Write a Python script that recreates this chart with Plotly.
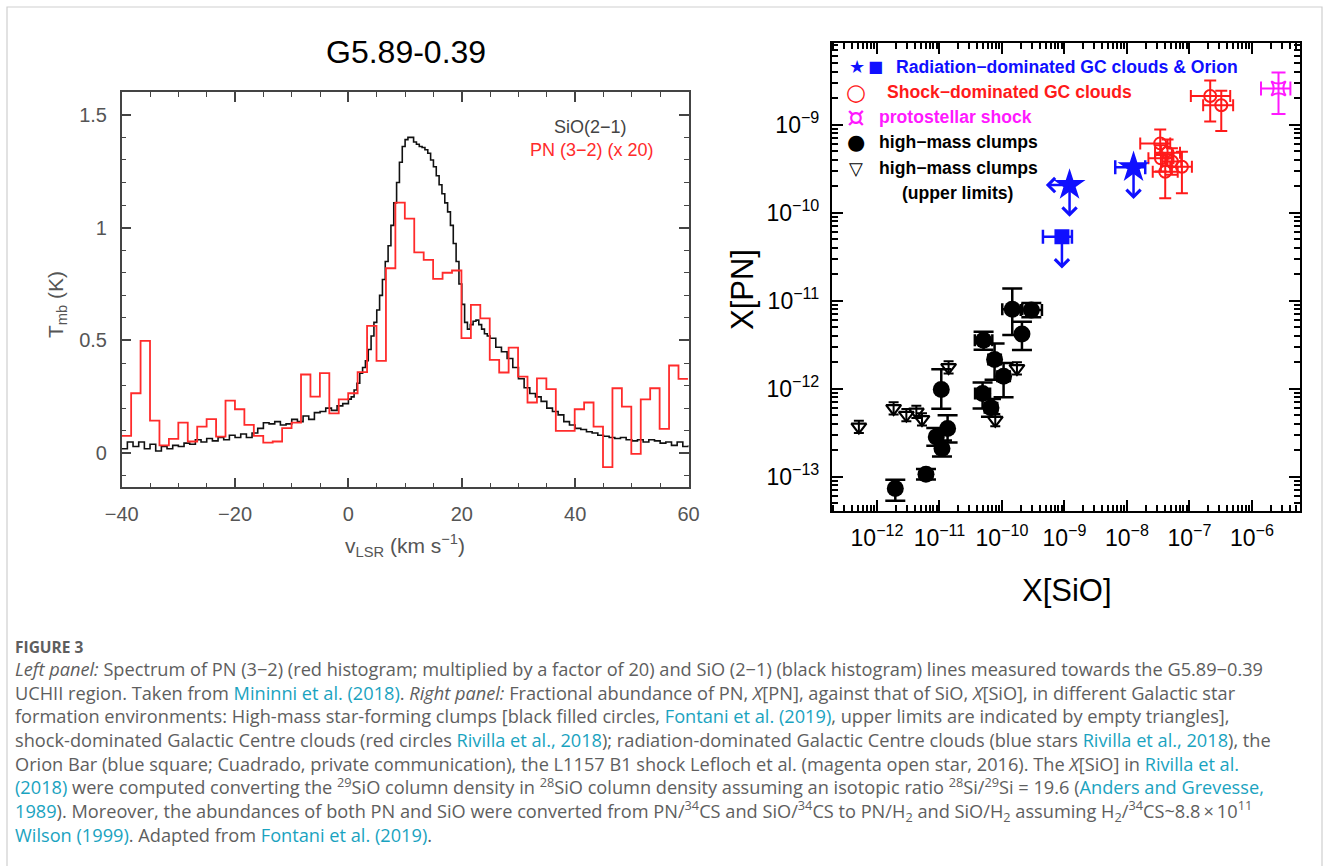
import numpy as np
import plotly.graph_objects as go

W, H = 1329, 866


def px(x):
    return x / W


def py(y):
    return 1 - y / H


# ---------------- Left panel: spectra ----------------
# PN (3-2) x20 histogram: channel values (K), channels start at -40 km/s
pn_v_start = -40.0
pn_dv = 1.665
pn_T = [0.077, 0.266, 0.498, 0.145, 0.035, 0.064, 0.136, 0.052, 0.118, 0.151,
        0.074, 0.233, 0.195, 0.126, 0.077, 0.047, 0.052, 0.111, 0.136, 0.349,
        0.251, 0.355, 0.177, 0.239, 0.266, 0.360, 0.565, 0.409, 0.820, 1.111,
        1.040, 0.890, 0.857, 0.773, 0.800, 0.810, 0.510, 0.658, 0.598, 0.414,
        0.358, 0.468, 0.340, 0.225, 0.332, 0.284, 0.099, 0.099, 0.195, 0.225,
        0.118, -0.062, 0.288, 0.207, -0.003, 0.239, 0.288, 0.108, 0.389, 0.330]

# SiO (2-1) spectrum
sio_v = [-40, -39, -38, -37, -36, -35, -34, -33, -32, -31, -30, -29, -28, -27,
         -26, -25, -24, -23, -22, -21, -20, -19, -18, -17, -16, -15, -14, -13,
         -12, -11, -10, -9, -8, -7, -6, -5, -4, -3, -2, -1,
         0, 0.5, 1, 1.5, 2, 2.5, 3, 3.5, 4, 4.5, 5, 5.5, 6, 6.5, 7, 7.5, 8, 8.5,
         9, 9.5, 10, 10.5, 11, 11.5, 12, 12.5, 13, 13.5, 14, 14.5, 15, 15.5, 16,
         16.5, 17, 17.5, 18, 18.5, 19, 19.5, 20, 20.5, 21, 21.5, 22, 22.5, 23,
         23.5, 24, 24.5, 25,
         26, 27, 28, 29, 30, 31, 32, 33, 34, 35, 36, 37, 38, 39, 40, 41, 42, 43,
         44, 45, 46, 47, 48, 49, 50, 51, 52, 53, 54, 55, 56, 57, 58, 59, 60]
sio_T = [0.02, 0.05, 0.03, 0.05, 0.02, 0.04, 0.01, 0.03, 0.02, 0.035, 0.03, 0.045,
         0.04, 0.06, 0.05, 0.065, 0.055, 0.07, 0.06, 0.08, 0.07, 0.085, 0.07, 0.09,
         0.11, 0.135, 0.13, 0.14, 0.125, 0.13, 0.15, 0.14, 0.165, 0.15, 0.18, 0.185,
         0.20, 0.19, 0.21, 0.22,
         0.24, 0.25, 0.28, 0.31, 0.355, 0.38, 0.41, 0.46, 0.52, 0.58, 0.635, 0.70,
         0.77, 0.85, 0.92, 1.01, 1.11, 1.20, 1.29, 1.36, 1.39, 1.40, 1.40, 1.38,
         1.37, 1.36, 1.355, 1.345, 1.33, 1.30, 1.27, 1.23, 1.19, 1.15, 1.11, 1.07,
         1.01, 0.93, 0.85, 0.75, 0.66, 0.58, 0.55, 0.57, 0.585, 0.59, 0.57, 0.55,
         0.53, 0.52, 0.51,
         0.47, 0.45, 0.42, 0.38, 0.33, 0.29, 0.265, 0.25, 0.23, 0.20, 0.185, 0.17,
         0.14, 0.125, 0.11, 0.105, 0.095, 0.09, 0.08, 0.075, 0.07, 0.065, 0.07, 0.06,
         0.055, 0.06, 0.05, 0.06, 0.055, 0.045, 0.05, 0.035, 0.05, 0.03, 0.035]

# ---------------- Right panel: abundances (log10 values) ----------------
# high-mass clumps (detections)
clump_lx = [-11.707, -11.216, -10.971, -11.051, -10.870, -10.960, -10.294,
            -10.118, -9.974, -10.310, -10.176, -9.835, -9.680, -9.530]
clump_ly = [-13.134, -12.972, -12.009, -12.548, -12.452, -12.680, -11.449,
            -11.668, -11.858, -12.055, -12.218, -11.097, -11.380, -11.108]
clump_ex = [0.0, 0.05, 0.05, 0.06, 0.04, 0.05, 0.14, 0.10, 0.10, 0.12, 0.10,
            0.16, 0.0, 0.17]
clump_ey_lo = [0.14, 0.06, 0.22, 0.10, 0.16, 0.09, 0.11, 0.23, 0.24, 0.17, 0.10,
               0.295, 0.18, 0.08]
clump_ey_hi = [0.10, 0.06, 0.23, 0.10, 0.15, 0.09, 0.095, 0.18, 0.15, 0.125, 0.10,
               0.236, 0.14, 0.08]

# high-mass clumps (upper limits)
ul_lx = [-12.29, -11.734, -11.53, -11.37, -11.28, -10.854, -9.76, -10.107]
ul_ly = [-12.434, -12.225, -12.30, -12.264, -12.35, -11.759, -11.77, -12.358]
ul_ey = [0.07, 0.07, 0.07, 0.07, 0.07, 0.07, 0.07, 0.07]

# radiation-dominated GC clouds (stars) and Orion Bar (square)
star_lx = [-8.918, -7.894]
star_ly = [-9.6875, -9.486]
star_ex_lo = [0.0, 0.293]
star_ex_hi = [0.0, 0.187]
star_ul_sio = [True, False]
square_lx = [-9.04]
square_ly = [-10.275]
square_ex_lo = [0.304]
square_ex_hi = [0.16]

# shock-dominated GC clouds
shock_lx = [-6.667, -6.490, -7.467, -7.456, -7.280, -7.387, -7.120, -7.350]
shock_ly = [-8.676, -8.780, -9.214, -9.384, -9.420, -9.536, -9.480, -9.320]
shock_ex_lo = [0.31, 0.29, 0.32, 0.20, 0.15, 0.20, 0.187, 0.20]
shock_ex_hi = [0.32, 0.19, 0.16, 0.20, 0.15, 0.20, 0.16, 0.20]
shock_ey_lo = [0.29, 0.294, 0.133, 0.15, 0.15, 0.30, 0.30, 0.15]
shock_ey_hi = [0.176, 0.164, 0.159, 0.15, 0.15, 0.20, 0.17, 0.15]

# protostellar shock L1157-B1
proto_lx = [-5.574]
proto_ly = [-8.589]
proto_ex_lo = [0.28]
proto_ex_hi = [0.19]
proto_ey_lo = [0.29]
proto_ey_hi = [0.18]

x_tick_exp = [-12, -11, -10, -9, -8, -7, -6]
y_tick_exp = [-13, -12, -11, -10, -9]

# upper-limit arrow length (dex)
ARROW_DEX_Y = 0.36
ARROW_DEX_X = 0.38


def lin(a):
    return 10.0 ** np.asarray(a, dtype=float)


def err_plus(lv, d):
    return lin(np.asarray(lv) + np.asarray(d)) - lin(lv)


def err_minus(lv, d):
    return lin(lv) - lin(np.asarray(lv) - np.asarray(d))


fig = go.Figure()

# ---- left panel traces
pn_edges = pn_v_start + pn_dv * np.arange(len(pn_T) + 1)
pn_y = list(pn_T) + [pn_T[-1]]
fig.add_trace(go.Scatter(x=sio_v, y=sio_T, mode="lines", line_shape="hv",
                         line=dict(color="#111111", width=1.6),
                         xaxis="x", yaxis="y", showlegend=False))
fig.add_trace(go.Scatter(x=pn_edges, y=pn_y, mode="lines", line_shape="hv",
                         line=dict(color="#ff2b2b", width=1.8),
                         xaxis="x", yaxis="y", showlegend=False))

# ---- right panel traces
BLK = "#000000"
BLUE = "#1010ff"
RED = "#ff1a1a"
MAG = "#ff19ff"

fig.add_trace(go.Scatter(
    x=lin(ul_lx), y=lin(ul_ly), mode="markers", xaxis="x2", yaxis="y2",
    marker=dict(symbol="triangle-down-open", size=13, color=BLK, line=dict(width=2.2)),
    error_y=dict(type="data", symmetric=False, array=err_plus(ul_ly, ul_ey),
                 arrayminus=err_minus(ul_ly, ul_ey), color=BLK, thickness=2, width=5),
    showlegend=False))

fig.add_trace(go.Scatter(
    x=lin(clump_lx), y=lin(clump_ly), mode="markers", xaxis="x2", yaxis="y2",
    marker=dict(symbol="circle", size=17, color=BLK),
    error_y=dict(type="data", symmetric=False, array=err_plus(clump_ly, clump_ey_hi),
                 arrayminus=err_minus(clump_ly, clump_ey_lo), color=BLK, thickness=2.5, width=10),
    error_x=dict(type="data", symmetric=False, array=err_plus(clump_lx, clump_ex),
                 arrayminus=err_minus(clump_lx, clump_ex), color=BLK, thickness=2.5, width=6),
    showlegend=False))

fig.add_trace(go.Scatter(
    x=lin(shock_lx), y=lin(shock_ly), mode="markers", xaxis="x2", yaxis="y2",
    marker=dict(symbol="circle-open", size=12, color=RED, line=dict(width=2)),
    error_y=dict(type="data", symmetric=False, array=err_plus(shock_ly, shock_ey_hi),
                 arrayminus=err_minus(shock_ly, shock_ey_lo), color=RED, thickness=2, width=6),
    error_x=dict(type="data", symmetric=False, array=err_plus(shock_lx, shock_ex_hi),
                 arrayminus=err_minus(shock_lx, shock_ex_lo), color=RED, thickness=2, width=6),
    showlegend=False))

fig.add_trace(go.Scatter(
    x=lin(proto_lx), y=lin(proto_ly), mode="markers", xaxis="x2", yaxis="y2",
    marker=dict(symbol="star-square-open", size=13, color=MAG, line=dict(width=2)),
    error_y=dict(type="data", symmetric=False, array=err_plus(proto_ly, proto_ey_hi),
                 arrayminus=err_minus(proto_ly, proto_ey_lo), color=MAG, thickness=2, width=7),
    error_x=dict(type="data", symmetric=False, array=err_plus(proto_lx, proto_ex_hi),
                 arrayminus=err_minus(proto_lx, proto_ex_lo), color=MAG, thickness=2, width=7),
    showlegend=False))

fig.add_trace(go.Scatter(
    x=lin(star_lx), y=lin(star_ly), mode="markers", xaxis="x2", yaxis="y2",
    marker=dict(symbol="star", size=24, color=BLUE),
    error_x=dict(type="data", symmetric=False, array=err_plus(star_lx, star_ex_hi),
                 arrayminus=err_minus(star_lx, star_ex_lo), color=BLUE, thickness=2.5, width=7),
    showlegend=False))

fig.add_trace(go.Scatter(
    x=lin(square_lx), y=lin(square_ly), mode="markers", xaxis="x2", yaxis="y2",
    marker=dict(symbol="square", size=15, color=BLUE),
    error_x=dict(type="data", symmetric=False, array=err_plus(square_lx, square_ex_hi),
                 arrayminus=err_minus(square_lx, square_ex_lo), color=BLUE, thickness=2.5, width=7),
    showlegend=False))

annotations = []

# upper-limit arrows for blue points (annotation coords on log axes are log10)
arrow_pts = [(star_lx[i], star_ly[i], star_ul_sio[i]) for i in range(len(star_lx))]
arrow_pts += [(square_lx[0], square_ly[0], False)]
for lx, ly, ul_x in arrow_pts:
    annotations.append(dict(x=lx, y=ly - ARROW_DEX_Y, ax=lx, ay=ly, xref="x2", yref="y2",
                            axref="x2", ayref="y2", text="", showarrow=True,
                            arrowhead=4, arrowsize=1.1, arrowwidth=2.5, arrowcolor=BLUE))
    if ul_x:
        annotations.append(dict(x=lx - ARROW_DEX_X, y=ly, ax=lx, ay=ly, xref="x2", yref="y2",
                                axref="x2", ayref="y2", text="", showarrow=True,
                                arrowhead=4, arrowsize=1.1, arrowwidth=2.5, arrowcolor=BLUE))

# ---- layout axes
LGRAY = "#444444"
TGRAY = "#555555"
left_x_dom = [px(121.7), px(688.5)]
left_y_dom = [py(487.3), py(92.3)]
right_x_dom = [px(832), px(1300)]
right_y_dom = [py(511), py(42.7)]

xaxis = dict(domain=left_x_dom, anchor="y", range=[-40, 60], dtick=20, tick0=-40,
             automargin=False,
             ticks="inside", ticklen=10, tickwidth=1.5, tickcolor=LGRAY,
             showline=True, linecolor=LGRAY, linewidth=1.5, mirror="ticks",
             showgrid=False, zeroline=False,
             tickfont=dict(family="Liberation Sans, Arial", size=20, color=TGRAY),
             ticklabelstandoff=8,
             minor=dict(dtick=5, ticks="inside", ticklen=5, tickwidth=1.3, tickcolor=LGRAY,
                        showgrid=False))
yaxis = dict(domain=left_y_dom, anchor="x", range=[-0.151, 1.6], dtick=0.5, tick0=0,
             automargin=False,
             ticks="inside", ticklen=10, tickwidth=1.5, tickcolor=LGRAY,
             showline=True, linecolor=LGRAY, linewidth=1.5, mirror="ticks",
             showgrid=False, zeroline=False,
             tickfont=dict(family="Liberation Sans, Arial", size=20, color=TGRAY),
             ticklabelstandoff=9,
             minor=dict(dtick=0.1, ticks="inside", ticklen=5, tickwidth=1.3, tickcolor=LGRAY,
                        showgrid=False))

x_minor = [k * 10.0 ** e for e in range(-13, -5) for k in range(2, 10)]
y_minor = [k * 10.0 ** e for e in range(-14, -8) for k in range(2, 10)]

xaxis2 = dict(domain=right_x_dom, anchor="y2", type="log", range=[-12.72, -5.23],
              automargin=False,
              tickmode="array", tickvals=[10.0 ** e for e in x_tick_exp],
              ticktext=["10<sup>\u2212%d</sup>" % (-e) for e in x_tick_exp],
              ticks="inside", ticklen=11, tickwidth=2, tickcolor="#000",
              showline=True, linecolor="#000", linewidth=2.2, mirror="ticks",
              showgrid=False, zeroline=False,
              tickfont=dict(family="Liberation Sans, Arial", size=23, color="#000"),
              ticklabelstandoff=5,
              minor=dict(tickmode="array", tickvals=x_minor, ticks="inside", ticklen=6,
                         tickwidth=1.6, tickcolor="#000", showgrid=False))
yaxis2 = dict(domain=right_y_dom, anchor="x2", type="log", range=[-13.39, -8.07],
              automargin=False,
              tickmode="array", tickvals=[10.0 ** e for e in y_tick_exp],
              ticktext=["10<sup>\u2212%d</sup>" % (-e) for e in y_tick_exp],
              ticks="inside", ticklen=11, tickwidth=2, tickcolor="#000",
              showline=True, linecolor="#000", linewidth=2.2, mirror="ticks",
              showgrid=False, zeroline=False,
              tickfont=dict(family="Liberation Sans, Arial", size=23, color="#000"),
              ticklabelstandoff=6,
              minor=dict(tickmode="array", tickvals=y_minor, ticks="inside", ticklen=6,
                         tickwidth=1.6, tickcolor="#000", showgrid=False))

# ---- text annotations
SANS = "Liberation Sans, Arial, sans-serif"


def ann(x, y, text, size, color="#000", family=SANS, xanchor="center", angle=0,
        yanchor="middle", align="center"):
    annotations.append(dict(x=px(x), y=py(y), xref="paper", yref="paper", text=text,
                            showarrow=False, xanchor=xanchor, yanchor=yanchor, align=align,
                            textangle=angle, font=dict(family=family, size=size, color=color)))


ann(406, 52, "G5.89-0.39", 32)
ann(590, 127, "SiO(2\u22121)", 18, "#444444")
ann(592, 150, "PN (3\u22122) (x 20)", 18, "#ff2b2b")
ann(405, 545, "v<sub>LSR</sub> (km s<sup>\u22121</sup>)", 21, TGRAY)
ann(57, 305, "T<sub>mb</sub> (K)", 21, TGRAY, angle=-90)

ann(742, 290, "X[PN]", 31, "#000", angle=-90)
ann(1067, 590, "X[SiO]", 31, "#000")

# legend inside right panel
LEG = "Liberation Sans, Arial, sans-serif"
SYM = "DejaVu Sans"
LS = 17.6
ann(857, 67, "\u2605", 18, BLUE, SYM)
ann(875, 67, "\u25a0", 16, BLUE, SYM)
ann(894, 67, "<b>Radiation\u2212dominated GC clouds & Orion</b>", LS, BLUE, LEG, "left")
ann(856, 92, "\u25cb", 23, RED, SYM)
ann(885, 92, "<b>Shock\u2212dominated GC clouds</b>", LS, RED, LEG, "left")
ann(856, 117, "\u00a4", 28, MAG, SYM)
ann(877, 117, "<b>protostellar shock</b>", LS, MAG, LEG, "left")
ann(856, 142, "\u25cf", 21, BLK, SYM)
ann(877, 142, "<b>high\u2212mass clumps</b>", LS, BLK, LEG, "left")
ann(856, 168, "\u25bd", 18, BLK, SYM)
ann(877, 168, "<b>high\u2212mass clumps</b>", LS, BLK, LEG, "left")
ann(900, 193, "<b>(upper limits)</b>", LS, BLK, LEG, "left")

# caption
CAP = "Open Sans, Lato, sans-serif"
CGRAY = "#5e5e5e"
LINK = "#1aa3bf"


def lk(t):
    return "<span style='color:%s'>%s</span>" % (LINK, t)


caption_lines = [
    "<i>Left panel:</i> Spectrum of PN (3\u22122) (red histogram; multiplied by a factor of 20) and SiO (2\u22121) (black histogram) lines measured towards the G5.89\u22120.39",
    "UCHII region. Taken from " + lk("Mininni et al. (2018)") + ". <i>Right panel:</i> Fractional abundance of PN, <i>X</i>[PN], against that of SiO, <i>X</i>[SiO], in different Galactic star",
    "formation environments: High-mass star-forming clumps [black filled circles, " + lk("Fontani et al. (2019)") + ", upper limits are indicated by empty triangles],",
    "shock-dominated Galactic Centre clouds (red circles " + lk("Rivilla et al., 2018") + "); radiation-dominated Galactic Centre clouds (blue stars " + lk("Rivilla et al., 2018") + "), the",
    "Orion Bar (blue square; Cuadrado, private communication), the L1157 B1 shock Lefloch et al. (magenta open star, 2016). The <i>X</i>[SiO] in " + lk("Rivilla et al."),
    lk("(2018)") + " were computed converting the <sup>29</sup>SiO column density in <sup>28</sup>SiO column density assuming an isotopic ratio <sup>28</sup>Si/<sup>29</sup>Si = 19.6 (" + lk("Anders and Grevesse,"),
    lk("1989") + "). Moreover, the abundances of both PN and SiO were converted from PN/<sup>34</sup>CS and SiO/<sup>34</sup>CS to PN/H<sub>2</sub> and SiO/H<sub>2</sub> assuming H<sub>2</sub>/<sup>34</sup>CS~8.8\u2009\u00d7\u200910<sup>11</sup>",
    lk("Wilson (1999)") + ". Adapted from " + lk("Fontani et al. (2019)") + ".",
]
ann(13, 647, "<b>FIGURE 3</b>", 15.5, CGRAY, CAP, "left")
ann(13, 655, "<br>".join(caption_lines), 18.2, CGRAY, CAP, "left",
    yanchor="top", align="left")

shapes = [dict(type="rect", xref="paper", yref="paper", x0=px(7), x1=px(1322),
               y0=py(880), y1=py(7), line=dict(color="#cfcfcf", width=1.2),
               fillcolor="rgba(0,0,0,0)", layer="below")]

fig.update_layout(
    width=W, height=H, autosize=False,
    margin=dict(l=0, r=0, t=0, b=0, pad=0),
    paper_bgcolor="white", plot_bgcolor="white",
    xaxis=xaxis, yaxis=yaxis, xaxis2=xaxis2, yaxis2=yaxis2,
    annotations=annotations, shapes=shapes, showlegend=False,
)

fig.write_html("out.html")
